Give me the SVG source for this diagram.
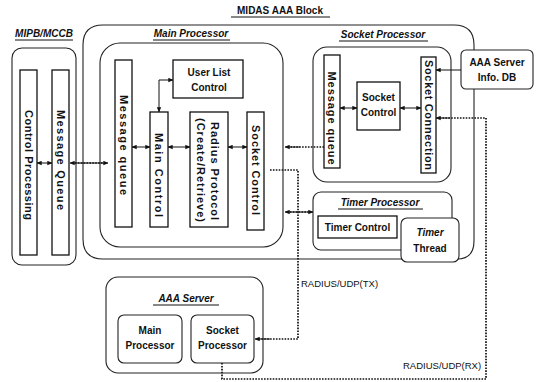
<svg xmlns="http://www.w3.org/2000/svg" width="538" height="382" viewBox="0 0 538 382">
<defs>
<marker id="ah" viewBox="0 0 8 8" refX="7.5" refY="4" markerWidth="5" markerHeight="5" orient="auto-start-reverse" markerUnits="userSpaceOnUse">
<path d="M0,0.5 L8,4 L0,7.5 Z" fill="#111"/>
</marker>
</defs>
<style>
.cont{fill:none;stroke:#222;stroke-width:1.1}
.box{fill:#fff;stroke:#111;stroke-width:1.3}
.wbox{fill:#fff;stroke:#222;stroke-width:1.1}
.t{font-family:"Liberation Sans",Arial,sans-serif;font-weight:bold;font-size:10px;fill:#111}
.v{font-size:11px}
.ti{font-style:italic}
.lab{font-family:"Liberation Sans",Arial,sans-serif;font-size:9.5px;fill:#111}
.ul{stroke:#111;stroke-width:1}
.sa{fill:none;stroke:#111;stroke-width:1;marker-start:url(#ah);marker-end:url(#ah)}
.se{fill:none;stroke:#111;stroke-width:1;marker-end:url(#ah)}
.dot{fill:none;stroke:#111;stroke-width:1.7;stroke-dasharray:1.6 1.3}
</style>
<rect width="538" height="382" fill="#fff"/>

<g id="title">
<text class="t" x="280" y="14" text-anchor="middle" font-size="11">MIDAS AAA Block</text>
<line class="ul" x1="231" y1="17" x2="330" y2="17"/>
</g>

<g id="midas">
<path class="cont" d="M103 25 H454 Q474 25 474 45 V241 Q474 259 457 259 H103 Q83 259 83 239 V45 Q83 25 103 25 Z"/>
</g>

<g id="mipb">
<text class="t ti" x="44" y="37" text-anchor="middle">MIPB/MCCB</text>
<line class="ul" x1="15" y1="40" x2="73" y2="40"/>
<rect class="cont" x="12" y="48" width="64" height="217" rx="10"/>
</g>
<g id="control-processing">
<rect class="box" x="20" y="70" width="17" height="185"/>
<text class="t v" transform="translate(28.5,165) rotate(90)" text-anchor="middle" dy="0.35em" textLength="110" lengthAdjust="spacing">Control Processing</text>
</g>
<g id="mipb-message-queue">
<rect class="box" x="52" y="70" width="17" height="185"/>
<text class="t v" transform="translate(60.5,160) rotate(90)" text-anchor="middle" dy="0.35em" textLength="100" lengthAdjust="spacing">Message Queue</text>
</g>

<g id="main-processor">
<text class="t ti" x="191" y="37" text-anchor="middle">Main Processor</text>
<line class="ul" x1="153" y1="40" x2="230" y2="40"/>
<rect class="cont" x="100" y="43" width="183" height="204" rx="20"/>
</g>
<g id="main-message-queue">
<rect class="box" x="115" y="60" width="17" height="167"/>
<text class="t v" transform="translate(123.5,145) rotate(90)" text-anchor="middle" dy="0.35em" textLength="100" lengthAdjust="spacing">Message queue</text>
</g>
<g id="user-list-control">
<rect class="box" x="173" y="60" width="70" height="38"/>
<text class="t" x="209" y="76" text-anchor="middle">User List</text>
<text class="t" x="209" y="91" text-anchor="middle">Control</text>
</g>
<g id="main-control">
<rect class="box" x="150" y="112" width="18" height="115"/>
<text class="t v" transform="translate(159,175) rotate(90)" text-anchor="middle" dy="0.35em" textLength="84" lengthAdjust="spacing">Main Control</text>
</g>
<g id="radius-protocol">
<rect class="box" x="190" y="112" width="38" height="115"/>
<text class="t v" transform="translate(215,171) rotate(90)" text-anchor="middle" dy="0.35em" textLength="98" lengthAdjust="spacing">Radius Protocol</text>
<text class="t v" transform="translate(201,170) rotate(90)" text-anchor="middle" dy="0.35em" textLength="104" lengthAdjust="spacing">(Create/Retrieve)</text>
</g>
<g id="main-socket-control">
<rect class="box" x="247" y="112" width="17" height="118"/>
<text class="t v" transform="translate(255.5,170) rotate(90)" text-anchor="middle" dy="0.35em" textLength="90" lengthAdjust="spacing">Socket Control</text>
</g>

<g id="socket-processor">
<text class="t ti" x="383" y="38" text-anchor="middle">Socket Processor</text>
<line class="ul" x1="339" y1="41" x2="428" y2="41"/>
<rect class="cont" x="313" y="47" width="138" height="135" rx="14"/>
</g>
<g id="sp-message-queue">
<rect class="box" x="324" y="55" width="16" height="113"/>
<text class="t v" transform="translate(332,118) rotate(90)" text-anchor="middle" dy="0.35em" textLength="93" lengthAdjust="spacing">Message queue</text>
</g>
<g id="sp-socket-control">
<rect class="box" x="357" y="82" width="43" height="48"/>
<text class="t" x="378.5" y="101" text-anchor="middle">Socket</text>
<text class="t" x="378.5" y="116" text-anchor="middle">Control</text>
</g>
<g id="socket-connection">
<rect class="box" x="421" y="57" width="15" height="116"/>
<text class="t v" transform="translate(428.5,115) rotate(90)" text-anchor="middle" dy="0.35em" textLength="110" lengthAdjust="spacing">Socket Connection</text>
</g>
<g id="aaa-info-db">
<rect class="wbox" x="461" y="50" width="72" height="39" rx="5"/>
<text class="t" x="497" y="66" text-anchor="middle">AAA Server</text>
<text class="t" x="497" y="81" text-anchor="middle">Info. DB</text>
</g>

<g id="timer-processor">
<rect class="wbox" x="313" y="192" width="139" height="58" rx="8"/>
<text class="t ti" x="380" y="206" text-anchor="middle">Timer Processor</text>
<line class="ul" x1="338" y1="209" x2="423" y2="209"/>
</g>
<g id="timer-control">
<rect class="box" x="318" y="216" width="79" height="22"/>
<text class="t" x="357.5" y="231" text-anchor="middle">Timer Control</text>
</g>
<g id="timer-thread">
<rect class="wbox" x="401" y="218" width="58" height="44" rx="6"/>
<text class="t ti" x="430" y="236" text-anchor="middle">Timer</text>
<text class="t" x="430" y="252" text-anchor="middle">Thread</text>
</g>

<g id="aaa-server">
<rect class="cont" x="106" y="277" width="157" height="96" rx="12"/>
<text class="t ti" x="186" y="302" text-anchor="middle" font-size="11">AAA Server</text>
<line class="ul" x1="153" y1="305" x2="219" y2="305"/>
</g>
<g id="aaa-main-processor">
<rect class="wbox" x="118" y="315" width="64" height="48" rx="6"/>
<text class="t" x="150" y="334" text-anchor="middle">Main</text>
<text class="t" x="150" y="349" text-anchor="middle">Processor</text>
</g>
<g id="aaa-socket-processor">
<rect class="wbox" x="191" y="315" width="63" height="48" rx="6"/>
<text class="t" x="222.5" y="334" text-anchor="middle">Socket</text>
<text class="t" x="222.5" y="349" text-anchor="middle">Processor</text>
</g>

<g id="connectors">
<path class="sa" d="M37 163 H52"/>
<path class="dot" d="M72 163 H106"/>
<path class="sa" d="M70 163 H108" stroke="none"/>
<path class="sa" d="M132 147 H150"/>
<path class="sa" d="M168 147 H190"/>
<path class="sa" d="M228 147 H247"/>
<path class="sa" d="M159 112 V80 H173"/>
<path class="sa" d="M340 108 H357"/>
<path class="sa" d="M400 108 H421"/>
<path class="se" d="M461 70 H436"/>
<path class="dot" d="M324 147 H287"/>
<path class="se" d="M300 147 H285" stroke="none"/>
<path class="dot" d="M287 212 H311"/>
<path class="sa" d="M285 212 H313" stroke="none"/>
<path class="dot" d="M270 170 H298 V339 H258"/>
<path class="se" d="M270 339 H255" stroke="none"/>
<path class="dot" d="M222 363 V379 H486 V118 H438"/>
<path class="se" d="M450 118 H436" stroke="none"/>
<text class="lab" x="301" y="287">RADIUS/UDP(TX)</text>
<text class="lab" x="403" y="369">RADIUS/UDP(RX)</text>
</g>
</svg>
